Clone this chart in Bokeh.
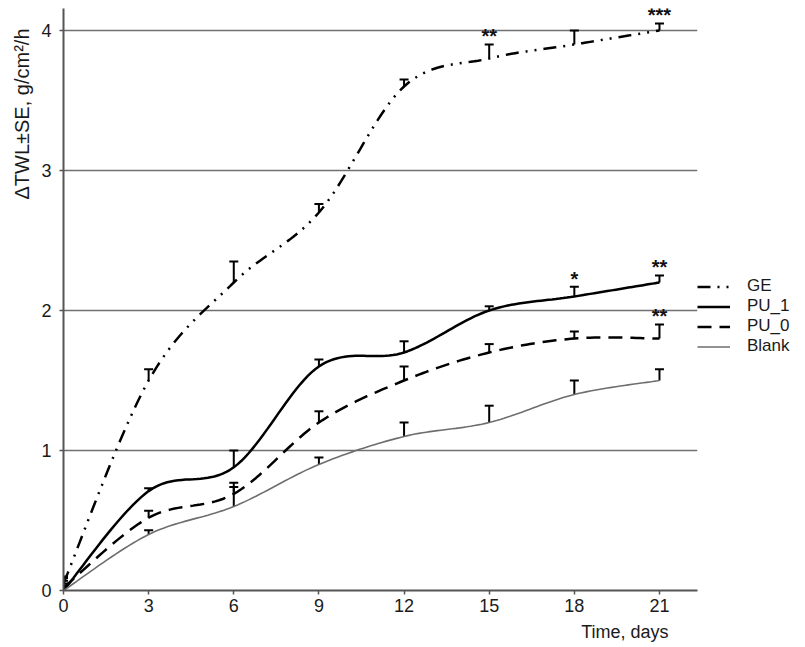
import numpy as np
from bokeh.plotting import figure
from bokeh.models import (Range1d, Legend, LegendItem, Whisker, TeeHead,
                          ColumnDataSource, Title, FixedTicker)
from bokeh.embed import file_html
from bokeh.resources import INLINE
from bokeh.core.properties import value

# ---- data ----
days = [0, 3, 6, 9, 12, 15, 18, 21]
ge = [0.05, 1.50, 2.20, 2.70, 3.60, 3.80, 3.90, 4.00]
ge_up = [0.10, 1.58, 2.35, 2.76, 3.65, 3.90, 4.00, 4.05]
pu1 = [0.00, 0.71, 0.88, 1.60, 1.70, 2.00, 2.10, 2.20]
pu1_up = [0.07, 0.73, 1.00, 1.65, 1.78, 2.03, 2.17, 2.25]
pu0 = [0.02, 0.52, 0.69, 1.20, 1.50, 1.70, 1.80, 1.80]
pu0_up = [0.09, 0.57, 0.77, 1.28, 1.60, 1.76, 1.85, 1.90]
blank = [0.00, 0.40, 0.60, 0.90, 1.10, 1.20, 1.40, 1.50]
blank_up = [0.05, 0.43, 0.74, 0.95, 1.20, 1.32, 1.50, 1.58]
x_ticks = [0, 3, 6, 9, 12, 15, 18, 21]
y_ticks = [0, 1, 2, 3, 4]
star_series = ["GE", "GE", "PU_1", "PU_1", "PU_0"]
star_day_idx = [5, 7, 6, 7, 7]
star_labels = ["**", "***", "*", "**", "**"]

FONT = "Liberation Sans"


def smooth(xs, ys, n=24):
    pts = np.column_stack([xs, ys]).astype(float)
    P = np.vstack([pts[0], pts, pts[-1]])
    out = []
    t = np.linspace(0, 1, n)[:, None]
    for i in range(len(pts) - 1):
        p0, p1, p2, p3 = P[i], P[i + 1], P[i + 2], P[i + 3]
        c1 = p1 + (p2 - p0) / 6.0
        c2 = p2 - (p3 - p1) / 6.0
        seg = ((1 - t) ** 3) * p1 + 3 * ((1 - t) ** 2) * t * c1 + 3 * (1 - t) * t ** 2 * c2 + t ** 3 * p2
        out.append(seg if i == 0 else seg[1:])
    arr = np.vstack(out)
    return arr[:, 0], arr[:, 1]


p = figure(frame_width=634, frame_height=582, output_backend="svg", toolbar_location=None,
           x_range=Range1d(0, 22.34), y_range=Range1d(0, 4.157),
           min_border_left=63, min_border_top=8, min_border_bottom=0, min_border_right=0)
p.outline_line_color = None
p.background_fill_color = "white"

series = {
    "GE": (ge, ge_up, dict(line_color="black", line_width=2.5, line_dash="13 7 2 7 2 7")),
    "PU_1": (pu1, pu1_up, dict(line_color="black", line_width=2.5)),
    "PU_0": (pu0, pu0_up, dict(line_color="black", line_width=2.5, line_dash="14 8")),
    "Blank": (blank, blank_up, dict(line_color="#6e6e6e", line_width=1.6)),
}

renderers = {}
for name, (vals, ups, style) in series.items():
    sx, sy = smooth(days, vals)
    renderers[name] = p.line(sx, sy, **style)
    src = ColumnDataSource(dict(x=days, y=vals, up=ups))
    w = Whisker(base="x", lower="y", upper="up", source=src, dimension="height",
                line_color="black", line_width=2,
                lower_head=None,
                upper_head=TeeHead(size=9, line_color="black", line_width=2))
    p.add_layout(w)

# significance stars
sx_, sy_ = [], []
for s, i in zip(star_series, star_day_idx):
    sx_.append(days[i])
    sy_.append(series[s][1][i])
p.text(x=sx_, y=sy_, text=star_labels, text_align="center", text_baseline="alphabetic",
       y_offset=-8, text_font=value(FONT), text_font_size="20px", text_font_style="bold",
       text_color="#111111")

# grid
p.xgrid.grid_line_color = None
p.ygrid.ticker = FixedTicker(ticks=[1, 2, 3, 4])
p.ygrid.grid_line_color = "#707070"
p.ygrid.grid_line_width = 1.5

for ax, ticks in ((p.xaxis, x_ticks), (p.yaxis, y_ticks)):
    ax.ticker = FixedTicker(ticks=ticks)
    ax.axis_line_color = "#555555"
    ax.axis_line_width = 2
    ax.major_tick_line_color = "#555555"
    ax.major_tick_line_width = 1.5
    ax.major_tick_out = 4
    ax.major_tick_in = 0
    ax.minor_tick_line_color = None
    ax.major_label_text_font = FONT
    ax.major_label_text_font_size = "18px"
    ax.major_label_text_color = "#1a1a1a"
p.yaxis.major_label_standoff = 8
p.xaxis.major_label_standoff = 4

p.add_layout(Title(text="\u0394TWL\u00b1SE, g/cm\u00b2/h", align="right", offset=20,
                   standoff=12,
                   text_font=FONT, text_font_size="20px", text_font_style="normal",
                   text_color="#1a1a1a"), "left")
p.add_layout(Title(text="Time, days", align="right", offset=29,
                   text_font=FONT, text_font_size="18px", text_font_style="normal",
                   text_color="#1a1a1a"), "below")

legend = Legend(items=[LegendItem(label=n, renderers=[renderers[n]]) for n in ["GE", "PU_1", "PU_0", "Blank"]],
                location=(0, 234), label_text_font=FONT, label_text_font_size="17px",
                label_text_color="#1a1a1a", glyph_width=33, glyph_height=17,
                label_height=17, label_standoff=17, spacing=0, padding=2, margin=26,
                border_line_color=None, background_fill_alpha=0)
p.add_layout(legend, "right")

open("out.html", "w").write(file_html(p, INLINE))
